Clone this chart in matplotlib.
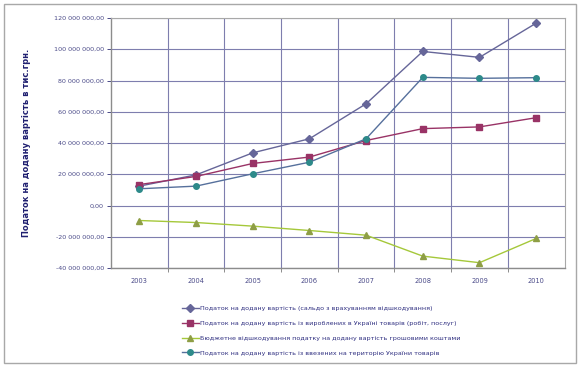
import matplotlib
matplotlib.use("Agg")
import matplotlib.pyplot as plt
from matplotlib.ticker import FuncFormatter, MultipleLocator, FixedLocator
from matplotlib.patches import Rectangle

years = ["2003", "2004", "2005", "2006", "2007", "2008", "2009", "2010"]
vat_balance = [12.4e6, 19.6e6, 33.7e6, 42.7e6, 65.1e6, 98.6e6, 94.8e6, 116.7e6]
vat_domestic = [13.4e6, 18.6e6, 26.9e6, 31.0e6, 41.6e6, 49.2e6, 50.3e6, 56.2e6]
vat_refund = [-9.6e6, -10.9e6, -13.2e6, -16.0e6, -19.0e6, -32.4e6, -36.6e6, -21.1e6]
vat_import = [10.7e6, 12.4e6, 20.3e6, 27.7e6, 42.7e6, 82.0e6, 81.4e6, 81.8e6]

labels = [
    "Податок на додану вартість (сальдо з врахуванням відшкодування)",
    "Податок на додану вартість із вироблених в Україні товарів (робіт, послуг)",
    "Бюджетне відшкодування податку на додану вартість грошовими коштами",
    "Податок на додану вартість із ввезених на територію України товарів",
]
y_label = "Податок на додану вартість в тис.грн."

W, H = 582, 367
fig = plt.figure(figsize=(W / 100, H / 100), dpi=100)
fig.patch.set_facecolor("white")

fig.add_artist(Rectangle((4 / W, 4 / H), 572 / W, 359 / H, transform=fig.transFigure,
                         fill=False, edgecolor="#A8A8A8", linewidth=1.0))

ax = fig.add_axes([111 / W, (H - 268) / H, 453.5 / W, 250 / H])
x = list(range(len(years)))

tick_color = "#4A4A88"
grid_color = "#7E7EAE"

h1, = ax.plot(x, vat_balance, color="#666699", lw=1.0, marker="D", ms=3.6,
              mfc="#666699", mec="#666699", zorder=3)
h2, = ax.plot(x, vat_domestic, color="#993366", lw=1.0, marker="s", ms=4.2,
              mfc="#993366", mec="#993366", zorder=3)
h3, = ax.plot(x, vat_refund, color="#A5C83A", lw=1.0, marker="^", ms=4.4,
              mfc="#8E9E45", mec="#8E9E45", zorder=3)
h4, = ax.plot(x, vat_import, color="#56709C", lw=1.0, marker="o", ms=4.0,
              mfc="#2D8A8A", mec="#2D8A8A", zorder=3)

ax.set_xlim(-0.5, len(years) - 0.5)
ax.set_ylim(-40e6, 120e6)
ax.yaxis.set_major_locator(MultipleLocator(20e6))
ax.yaxis.set_major_formatter(FuncFormatter(
    lambda v, p: f"{v:,.2f}".replace(",", " ").replace(".", ",")))
ax.set_xticks(x)
ax.set_xticklabels(years)
ax.xaxis.set_minor_locator(FixedLocator([i + 0.5 for i in range(len(years) - 1)]))

ax.grid(True, axis="y", which="major", color=grid_color, lw=0.8)
ax.grid(True, axis="x", which="minor", color=grid_color, lw=0.8)
ax.set_axisbelow(True)

for s in ["left", "bottom"]:
    ax.spines[s].set_color("#8C8C8C")
    ax.spines[s].set_linewidth(1.0)
for s in ["top", "right"]:
    ax.spines[s].set_color("#A8A8A8")
    ax.spines[s].set_linewidth(0.8)

ax.tick_params(axis="y", labelsize=4.6, colors=tick_color, length=3, width=0.7, pad=2)
ax.tick_params(axis="x", which="major", labelsize=4.8, colors=tick_color, length=0, pad=7)
ax.tick_params(axis="x", which="minor", length=3, width=0.7, color="#8C8C8C")
for t in ax.get_xticklabels() + ax.get_yticklabels():
    t.set_color(tick_color)

fig.text(27 / W, (H - 143) / H, y_label, rotation=90, ha="center", va="center",
         fontsize=6.0, fontweight="bold", color="#1F1F70")

fig.legend([h1, h2, h3, h4], labels, loc="upper left",
           bbox_to_anchor=(182 / W, (H - 306) / H), frameon=False, fontsize=4.6,
           handlelength=2.6, handletextpad=0.15, labelspacing=1.45, borderpad=0,
           borderaxespad=0, labelcolor="#2E2E80")

fig.savefig("out.png", dpi=100, facecolor="white")
